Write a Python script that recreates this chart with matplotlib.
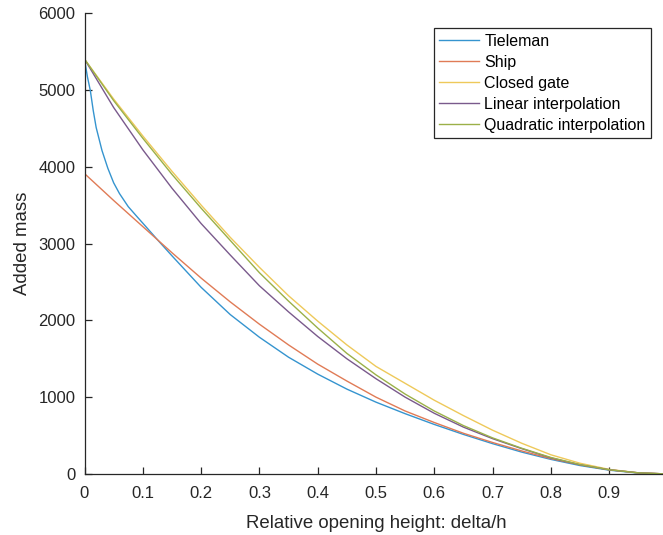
import numpy as np
import matplotlib
matplotlib.use("Agg")
import matplotlib.pyplot as plt

plt.rcParams['font.family'] = ['Liberation Sans', 'DejaVu Sans']

# relative opening height
x_fine = [0, 0.005, 0.01, 0.015, 0.02, 0.03, 0.04, 0.05, 0.06, 0.075, 0.09, 0.1, 0.125, 0.15,
          0.2, 0.25, 0.3, 0.35, 0.4, 0.45, 0.5, 0.55, 0.6, 0.65, 0.7, 0.75, 0.8, 0.85,
          0.9, 0.95, 1.0]
x = [0, 0.05, 0.1, 0.15, 0.2, 0.25, 0.3, 0.35, 0.4, 0.45, 0.5,
     0.55, 0.6, 0.65, 0.7, 0.75, 0.8, 0.85, 0.9, 0.95, 1.0]

tieleman = [5400, 5170, 4990, 4730, 4510, 4210, 3980, 3790, 3650, 3480, 3350, 3265, 3050, 2840,
            2430, 2075, 1780, 1520, 1300, 1105, 935, 785, 645, 515, 395, 285, 190, 110,
            50, 12, 0]
ship = [3910, 3560, 3220, 2880, 2550, 2240, 1950, 1680, 1430, 1210, 1000,
        820, 670, 530, 410, 300, 200, 120, 55, 15, 0]
closed_gate = [5400, 4880, 4400, 3940, 3500, 3080, 2690, 2320, 1990, 1680, 1400,
               1180, 960, 760, 570, 400, 250, 140, 60, 15, 0]
linear = [5400, 4770, 4220, 3720, 3260, 2850, 2450, 2110, 1790, 1500, 1240,
          1000, 790, 610, 460, 330, 210, 120, 55, 15, 0]
quadratic = [5400, 4860, 4370, 3900, 3460, 3040, 2620, 2250, 1900, 1570, 1290,
             1040, 820, 630, 470, 335, 215, 122, 55, 15, 0]

xtick_vals = [0, 0.1, 0.2, 0.3, 0.4, 0.5, 0.6, 0.7, 0.8, 0.9]
xtick_labels = ['0', '0.1', '0.2', '0.3', '0.4', '0.5', '0.6', '0.7', '0.8', '0.9']
ytick_vals = [0, 1000, 2000, 3000, 4000, 5000, 6000]

fig = plt.figure(figsize=(6.63, 5.35), dpi=100)
ax = fig.add_axes([84.5 / 663, 61 / 535, 583 / 663, 461 / 535])

lw = 1.0
ax.plot(x_fine, tieleman, color='#3594cf', lw=lw, label='Tieleman')
ax.plot(x, ship, color='#e07b56', lw=lw, label='Ship')
ax.plot(x, closed_gate, color='#eec95a', lw=lw, label='Closed gate')
ax.plot(x, linear, color='#7a5a8c', lw=lw, label='Linear interpolation')
ax.plot(x, quadratic, color='#9bb048', lw=lw, label='Quadratic interpolation')

ax.set_xlim(0, 1)
ax.set_ylim(0, 6000)
ax.set_xticks(xtick_vals)
ax.set_xticklabels(xtick_labels)
ax.set_yticks(ytick_vals)

axcol = '#262626'
for s in ['top', 'right']:
    ax.spines[s].set_visible(False)
for s in ['left', 'bottom']:
    ax.spines[s].set_color(axcol)
    ax.spines[s].set_linewidth(0.9)
ax.tick_params(direction='in', length=5, width=0.9, colors=axcol, labelsize=12)
ax.tick_params(axis='y', pad=6.5)
ax.tick_params(axis='x', pad=8.5)

ax.set_xlabel('Relative opening height: delta/h', fontsize=13.4, color=axcol, labelpad=10)
ax.set_ylabel('Added mass', fontsize=13.4, color=axcol, labelpad=5)

leg = ax.legend(loc='upper right', bbox_to_anchor=(651 / 663, 1 - 28 / 535),
                bbox_transform=fig.transFigure, borderaxespad=0, fontsize=11.5,
                fancybox=False, framealpha=1, edgecolor=axcol, handlelength=2.5,
                handletextpad=0.3, labelspacing=0.38, borderpad=0.35)
leg.get_frame().set_linewidth(0.9)

fig.savefig('out.png', dpi=100)
